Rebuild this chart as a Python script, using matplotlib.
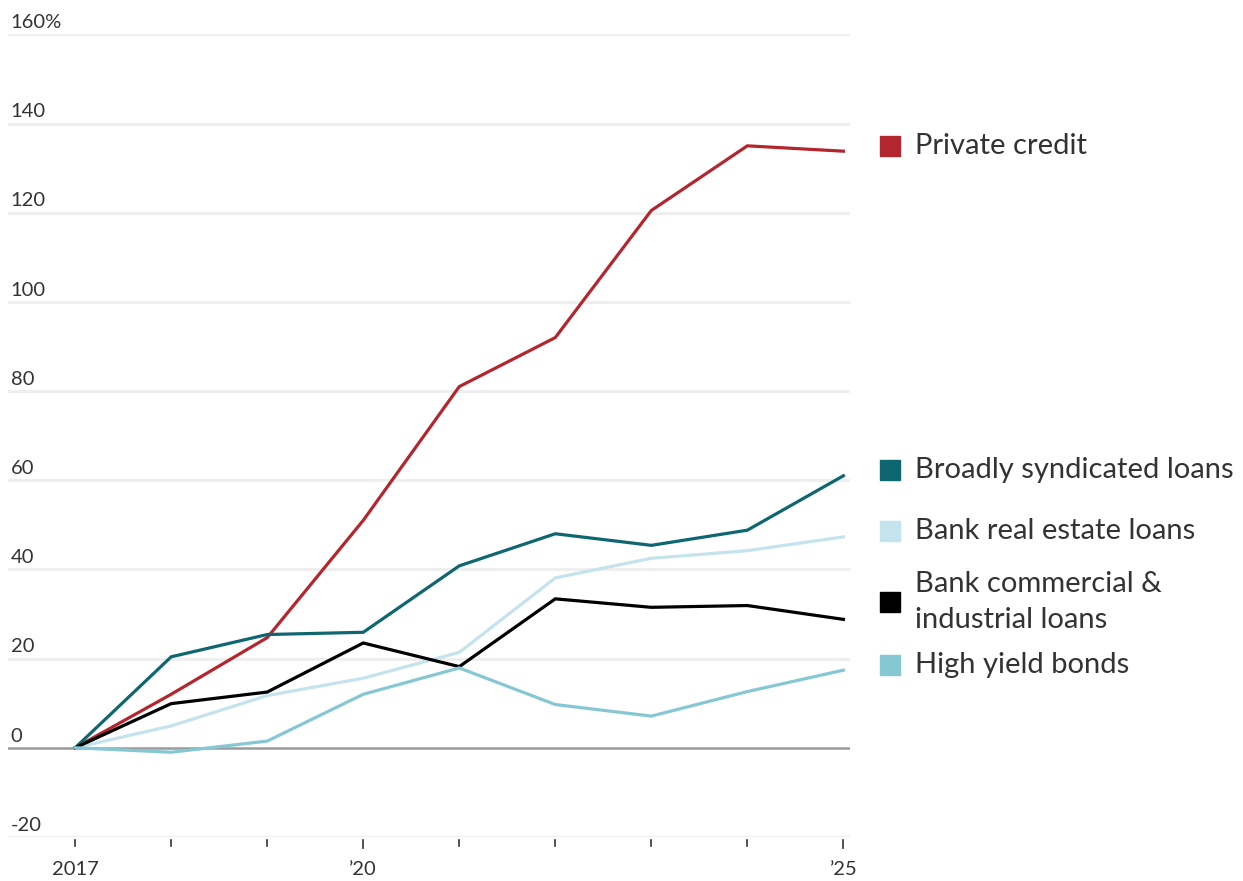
import matplotlib
matplotlib.use("Agg")
import matplotlib.pyplot as plt
from matplotlib.patches import Rectangle

years = [2017, 2018, 2019, 2020, 2021, 2022, 2023, 2024, 2025]
private_credit = [0, 12, 24.7, 51, 81, 92, 120.5, 135, 133.8]
broadly_syndicated = [0, 20.4, 25.4, 25.9, 40.8, 48, 45.4, 48.8, 61]
bank_real_estate = [0, 4.9, 11.7, 15.6, 21.4, 38.1, 42.5, 44.2, 47.3]
bank_ci = [0, 9.9, 12.5, 23.5, 18.2, 33.4, 31.5, 31.9, 28.8]
high_yield = [0, -1, 1.5, 12, 17.9, 9.7, 7.1, 12.6, 17.4]

series_names = ["Private credit", "Broadly syndicated loans", "Bank real estate loans",
                "Bank commercial &\nindustrial loans", "High yield bonds"]
colors = ["#b3262e", "#0e6670", "#c4e3ec", "#000000", "#86c7d4"]
y_ticks = [-20, 0, 20, 40, 60, 80, 100, 120, 140, 160]
y_tick_labels = ["-20", "0", "20", "40", "60", "80", "100", "120", "140", "160%"]
x_tick_labels = {2017: "2017", 2020: "’20", 2025: "’25"}

plt.rcParams['font.family'] = ['Lato', 'DejaVu Sans']

fig = plt.figure(figsize=(12.43, 8.81), dpi=100)
ax = fig.add_axes([0.0064, 0.050, 0.6775, 0.911])
ax.set_xlim(2016.30, 2025.07)
ax.set_ylim(-20, 160)
for s in ax.spines.values():
    s.set_visible(False)
ax.set_xticks([])
ax.set_yticks([])

for yv in y_ticks:
    if yv == 0:
        ax.axhline(0, color="#9a9a9a", lw=1.8, zorder=1)
    else:
        ax.axhline(yv, color="#efefef", lw=2.2, zorder=0)

for yv, lab in zip(y_ticks, y_tick_labels):
    ax.annotate(lab, xy=(0, yv), xycoords=("axes fraction", "data"),
                xytext=(2, 4.5), textcoords="offset points", ha="left", va="baseline",
                fontsize=14.5, color="#333333")

data = [private_credit, broadly_syndicated, bank_real_estate, bank_ci, high_yield]
order = [2, 4, 3, 1, 0]
for i in order:
    ax.plot(years, data[i], color=colors[i], lw=2.3, zorder=3 + i,
            solid_joinstyle="miter", clip_on=False)

trans = ax.get_xaxis_transform()
for yr in years:
    L = 0.010 if yr in (2020, 2025) else 0.007
    ax.plot([yr, yr], [-0.004, -0.004 - L], transform=trans, color="#333333", lw=1.2, clip_on=False)
for yr, lab in x_tick_labels.items():
    ax.text(yr, -0.030, lab, transform=trans, ha="center", va="top", fontsize=14.5, color="#333333")

# legend at right
leg_y = [146, 470, 531, 602, 665]
for name, c, ypx in zip(series_names, colors, leg_y):
    yf = 1 - ypx / 881
    fig.patches.append(Rectangle((880 / 1243, yf - 10 / 881), 20 / 1243, 20 / 881,
                                 transform=fig.transFigure, color=c, figure=fig))
    fig.text(915 / 1243, yf, name, ha="left", va="center", fontsize=21,
             color="#333333", linespacing=1.45)

fig.savefig("out.png", dpi=100, facecolor="white")
